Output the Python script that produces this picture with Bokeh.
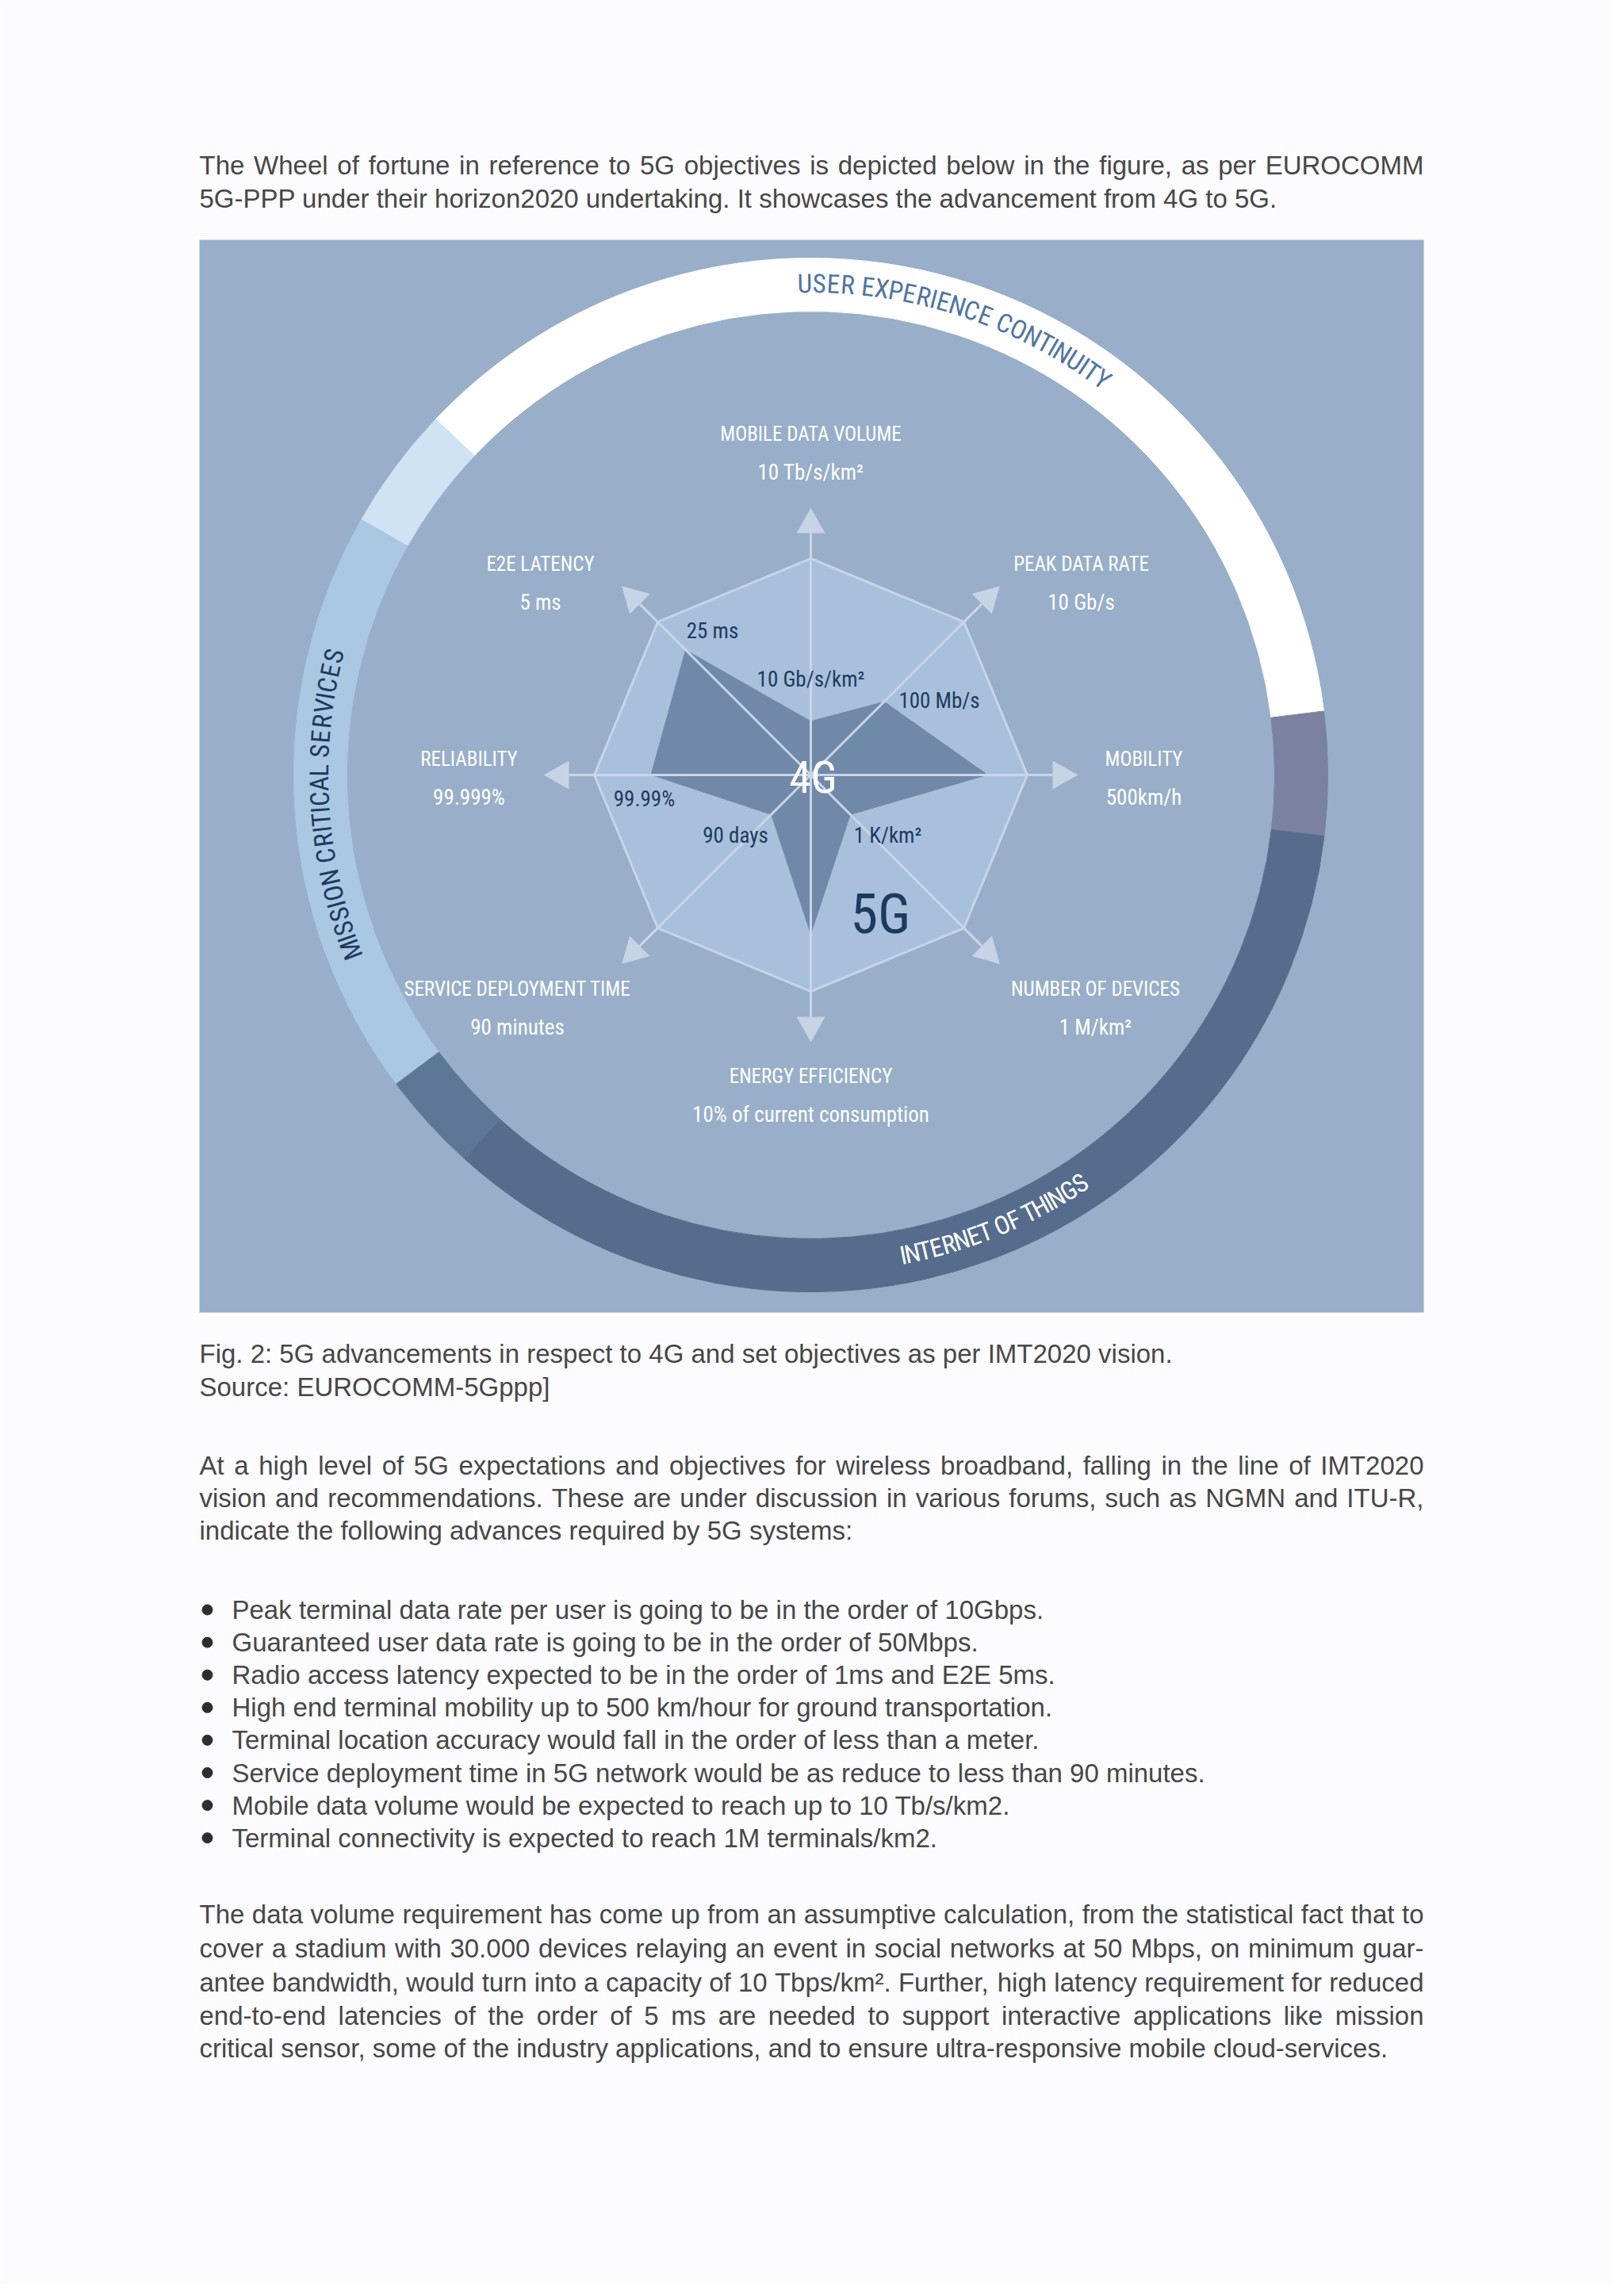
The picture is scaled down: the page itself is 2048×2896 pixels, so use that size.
import math
from bokeh.plotting import figure
from bokeh.models import Range1d
from bokeh.core.properties import value
from bokeh.embed import file_html
from bokeh.resources import INLINE

# ---------------- data ----------------
intro_lines = [
    "The Wheel of fortune in reference to 5G objectives is depicted below in the figure, as per EUROCOMM",
    "5G-PPP under their horizon2020 undertaking. It showcases the advancement from 4G to 5G.",
]
caption_lines = [
    "Fig. 2: 5G advancements in respect to 4G and set objectives as per IMT2020 vision.",
    "Source: EUROCOMM-5Gppp]",
]
para_lines = [
    "At a high level of 5G expectations and objectives for wireless broadband, falling in the line of IMT2020",
    "vision and recommendations. These are under discussion in various forums, such as NGMN and  ITU-R,",
    "indicate the following advances required by 5G systems:",
]
bullet_items = [
    "Peak terminal data rate per user is going to be in the order of 10Gbps.",
    "Guaranteed user data rate is going to be in the order of 50Mbps.",
    "Radio access latency expected to be in the order of 1ms and E2E 5ms.",
    "High end terminal mobility up to 500 km/hour for ground transportation.",
    "Terminal location accuracy would fall in the order of less than a meter.",
    "Service deployment time in 5G network would be as reduce to less than 90 minutes.",
    "Mobile data volume would be expected to reach up to 10 Tb/s/km2.",
    "Terminal connectivity is expected to reach 1M terminals/km2.",
]
closing_lines = [
    "The data volume requirement has come up from an assumptive calculation, from the statistical fact that to",
    "cover a stadium with 30.000 devices relaying an event in social networks at 50 Mbps, on minimum guar-",
    "antee bandwidth, would turn into a capacity of 10 Tbps/km\u00b2. Further, high latency requirement for reduced",
    "end-to-end latencies of the order of 5 ms are needed to support interactive applications like mission",
    "critical sensor, some of the industry applications, and to ensure ultra-responsive mobile cloud-services.",
]

radar_axes = ["MOBILE DATA VOLUME", "PEAK DATA RATE", "MOBILITY", "NUMBER OF DEVICES",
              "ENERGY EFFICIENCY", "SERVICE DEPLOYMENT TIME", "RELIABILITY", "E2E LATENCY"]
radar_angle_deg = [90, 45, 0, -45, -90, -135, 180, 135]
objective_5g = ["10 Tb/s/km\u00b2", "10 Gb/s", "500km/h", "1 M/km\u00b2",
                "10% of current consumption", "90 minutes", "99.999%", "5 ms"]
level_5g = [1.0, 1.0, 1.0, 1.0, 1.0, 1.0, 1.0, 1.0]
value_4g = ["10 Gb/s/km\u00b2", "100 Mb/s", "", "1 K/km\u00b2", "", "90 days", "99.99%", "25 ms"]
level_4g = [0.25, 0.48, 0.82, 0.26, 0.74, 0.26, 0.74, 0.82]

ring_labels = ["USER EXPERIENCE CONTINUITY", "", "MISSION CRITICAL SERVICES", "",
               "INTERNET OF THINGS", ""]
ring_start_deg = [7.1, 136.5, 150.4, 216.7, 228.0, -6.7]
ring_end_deg = [136.5, 150.4, 216.7, 228.0, 353.3, 7.1]

# ---------------- layout / style ----------------
PAGE_W, PAGE_H = 2048, 2896
FIG_W, FIG_H = PAGE_W - 16, PAGE_H - 16


def Y(y_ref):
    return PAGE_H - y_ref


BODY = "Liberation Sans"
COND = "Roboto Condensed, Roboto"
BODY_SIZE = 33
BODY_COLOR = "#474747"
LEFT, RIGHT = 251, 1795

CX, CY = 1022, Y(977)
R_OUT, R_IN = 652, 585
R_POLY = 273
R_TIP, R_BASE, HEAD_HALF = 337, 305, 18

ring_colors = ["#ffffff", "#cfe3f4", "#abc8e3", "#5e7797", "#566c8c", "#7a82a0"]
ring_text_style = {
    "USER EXPERIENCE CONTINUITY": dict(a0=90.7, a1=53.6, r=620, cw=True, size=33, color="#4e75a1"),
    "MISSION CRITICAL SERVICES": dict(a0=200.8, a1=166.0, r=620, cw=True, size=33, color="#1d3b5e"),
    "INTERNET OF THINGS": dict(a0=-79.1, a1=-56.6, r=617, cw=False, size=32, color="#ffffff"),
}
label_offsets = [(0, -430), (341, -266), (420, -20), (359, 270),
                 (0, 380), (-370, 270), (-431, -20), (-341, -266)]
inner_offsets = [(0, -121), (162, -94), (0, 0), (97, 76),
                 (0, 0), (-95, 76), (-210, 30), (-124, -182)]

AW = {' ': 278, '!': 278, '%': 889, "'": 191, '(': 333, ')': 333, ',': 278, '-': 333,
      '.': 278, '/': 278, ':': 278, ';': 278, '?': 556, ']': 278, '[': 278, '\u00b2': 333,
      'A': 667, 'B': 667, 'C': 722, 'D': 722, 'E': 667, 'F': 611, 'G': 778, 'H': 722,
      'I': 278, 'J': 500, 'K': 667, 'L': 556, 'M': 833, 'N': 722, 'O': 778, 'P': 667,
      'Q': 778, 'R': 722, 'S': 667, 'T': 611, 'U': 722, 'V': 667, 'W': 944, 'X': 667,
      'Y': 667, 'Z': 611,
      'a': 556, 'b': 556, 'c': 500, 'd': 556, 'e': 556, 'f': 278, 'g': 556, 'h': 556,
      'i': 222, 'j': 222, 'k': 500, 'l': 222, 'm': 833, 'n': 556, 'o': 556, 'p': 556,
      'q': 556, 'r': 333, 's': 500, 't': 278, 'u': 556, 'v': 500, 'w': 722, 'x': 500,
      'y': 500, 'z': 500}


def tw(s, size):
    return sum(AW.get(ch, 556) for ch in s) * size / 1000.0


p = figure(width=FIG_W, height=FIG_H,
           x_range=Range1d(0, FIG_W), y_range=Range1d(PAGE_H - FIG_H, PAGE_H),
           output_backend="svg", toolbar_location=None,
           x_axis_location=None, y_axis_location=None, min_border=0)
p.grid.visible = False
p.outline_line_color = None
p.background_fill_color = "#fcfcfe"
p.border_fill_color = "#fcfcfe"


# ---------------- body text ----------------
def body_line(s, y_ref, x0=LEFT, justify=False):
    if justify:
        words = s.split()
        widths = [tw(w, BODY_SIZE) for w in words]
        gap = max((RIGHT - x0 - sum(widths)) / (len(words) - 1), 0.2 * BODY_SIZE)
        xs, x = [], x0
        for wd in widths:
            xs.append(x)
            x += wd + gap
        texts = words
    else:
        xs, texts = [x0], [s]
    p.text(x=xs, y=[Y(y_ref)] * len(xs), text=texts, text_align="left",
           text_baseline="middle", text_font=value(BODY),
           text_font_size=f"{BODY_SIZE}px", text_color=BODY_COLOR)


for i, (s, y) in enumerate(zip(intro_lines, [208, 250])):
    body_line(s, y, justify=(i < len(intro_lines) - 1))
for s, y in zip(caption_lines, [1707, 1749]):
    body_line(s, y)
for i, (s, y) in enumerate(zip(para_lines, [1848, 1889, 1930])):
    body_line(s, y, justify=(i < len(para_lines) - 1))
bullet_y = [2030 + 41.1 * i for i in range(len(bullet_items))]
for s, y in zip(bullet_items, bullet_y):
    body_line(s, y, x0=292)
p.scatter(x=[261] * len(bullet_y), y=[Y(y) for y in bullet_y], size=13,
          marker="circle", color="#2e2e2e")
closing_y = [2414, 2457, 2500, 2542, 2583]
for i, (s, y) in enumerate(zip(closing_lines, closing_y)):
    body_line(s, y, justify=(i < len(closing_lines) - 1))

# ---------------- chart panel ----------------
p.quad(left=[251], right=[1795], top=[Y(302)], bottom=[Y(1655)],
       fill_color="#98aec9", line_color=None)

# ring
p.annular_wedge(x=[CX] * len(ring_start_deg), y=[CY] * len(ring_start_deg),
                inner_radius=R_IN, outer_radius=R_OUT,
                start_angle=[math.radians(a) for a in ring_start_deg],
                end_angle=[math.radians(a) for a in ring_end_deg],
                fill_color=ring_colors, line_color=ring_colors, line_width=1)


def arc_text(text, a0, a1, r, cw, size, color):
    ws = [AW.get(c, 600) for c in text]
    centers, s = [], 0
    for w in ws:
        centers.append(s + w / 2)
        s += w
    c0, c1 = centers[0], centers[-1]
    xs, ys, angs, chars = [], [], [], []
    for ch, c in zip(text, centers):
        if ch == " ":
            continue
        t = math.radians(a0 + (a1 - a0) * (c - c0) / (c1 - c0))
        xs.append(CX + r * math.cos(t))
        ys.append(CY + r * math.sin(t))
        angs.append(t - math.pi / 2 if cw else t + math.pi / 2)
        chars.append(ch)
    p.text(x=xs, y=ys, text=chars, angle=angs, text_align="center",
           text_baseline="middle", text_font=value(COND),
           text_font_size=f"{size}px", text_color=color)


for name in ring_labels:
    if name:
        arc_text(name, **ring_text_style[name])

# radar polygons
angs = [math.radians(a) for a in radar_angle_deg]
xs5 = [CX + l * R_POLY * math.cos(a) for l, a in zip(level_5g, angs)]
ys5 = [CY + l * R_POLY * math.sin(a) for l, a in zip(level_5g, angs)]
xs4 = [CX + l * R_POLY * math.cos(a) for l, a in zip(level_4g, angs)]
ys4 = [CY + l * R_POLY * math.sin(a) for l, a in zip(level_4g, angs)]
p.patch(xs5, ys5, fill_color="#a8c0dc", line_color="#c6d5e8", line_width=3)
p.patch(xs4, ys4, fill_color="#7189a8", line_color=None)

# axes + arrow heads
p.segment(x0=[CX] * 8, y0=[CY] * 8,
          x1=[CX + R_BASE * math.cos(a) for a in angs],
          y1=[CY + R_BASE * math.sin(a) for a in angs],
          line_color="#c8d6e8", line_width=3)
hx, hy = [], []
for a in angs:
    ux, uy = math.cos(a), math.sin(a)
    nx, ny = -uy, ux
    bx, by = CX + R_BASE * ux, CY + R_BASE * uy
    hx.append([CX + R_TIP * ux, bx + HEAD_HALF * nx, bx - HEAD_HALF * nx])
    hy.append([CY + R_TIP * uy, by + HEAD_HALF * ny, by - HEAD_HALF * ny])
p.patches(hx, hy, fill_color="#c7d4e5", line_color=None)

# axis titles and 5G objectives
tx = [CX + dx for dx, dy in label_offsets]
ty = [CY - dy for dx, dy in label_offsets]
p.text(x=tx, y=ty, text=radar_axes, text_align="center", text_baseline="middle",
       text_font=value(COND), text_font_size="25px", text_color="#ffffff")
p.text(x=tx, y=[y - 48 for y in ty], text=objective_5g, text_align="center",
       text_baseline="middle", text_font=value(COND), text_font_size="27px",
       text_color="#ffffff")

# 4G values
ix = [CX + dx for (dx, dy), v in zip(inner_offsets, value_4g) if v]
iy = [CY - dy for (dx, dy), v in zip(inner_offsets, value_4g) if v]
p.text(x=ix, y=iy, text=[v for v in value_4g if v], text_align="center",
       text_baseline="middle", text_font=value(COND), text_font_size="27px",
       text_color="#1d3b5e")

p.text(x=[CX + 3], y=[CY - 3], text=["4G"], text_align="center", text_baseline="middle",
       text_font=value(COND), text_font_size="56px", text_color="#ffffff")
p.text(x=[CX + 88], y=[CY - 175], text=["5G"], text_align="center", text_baseline="middle",
       text_font=value(COND), text_font_size="70px", text_color="#1d3b5e")

open("out.html", "w").write(file_html(p, INLINE))
